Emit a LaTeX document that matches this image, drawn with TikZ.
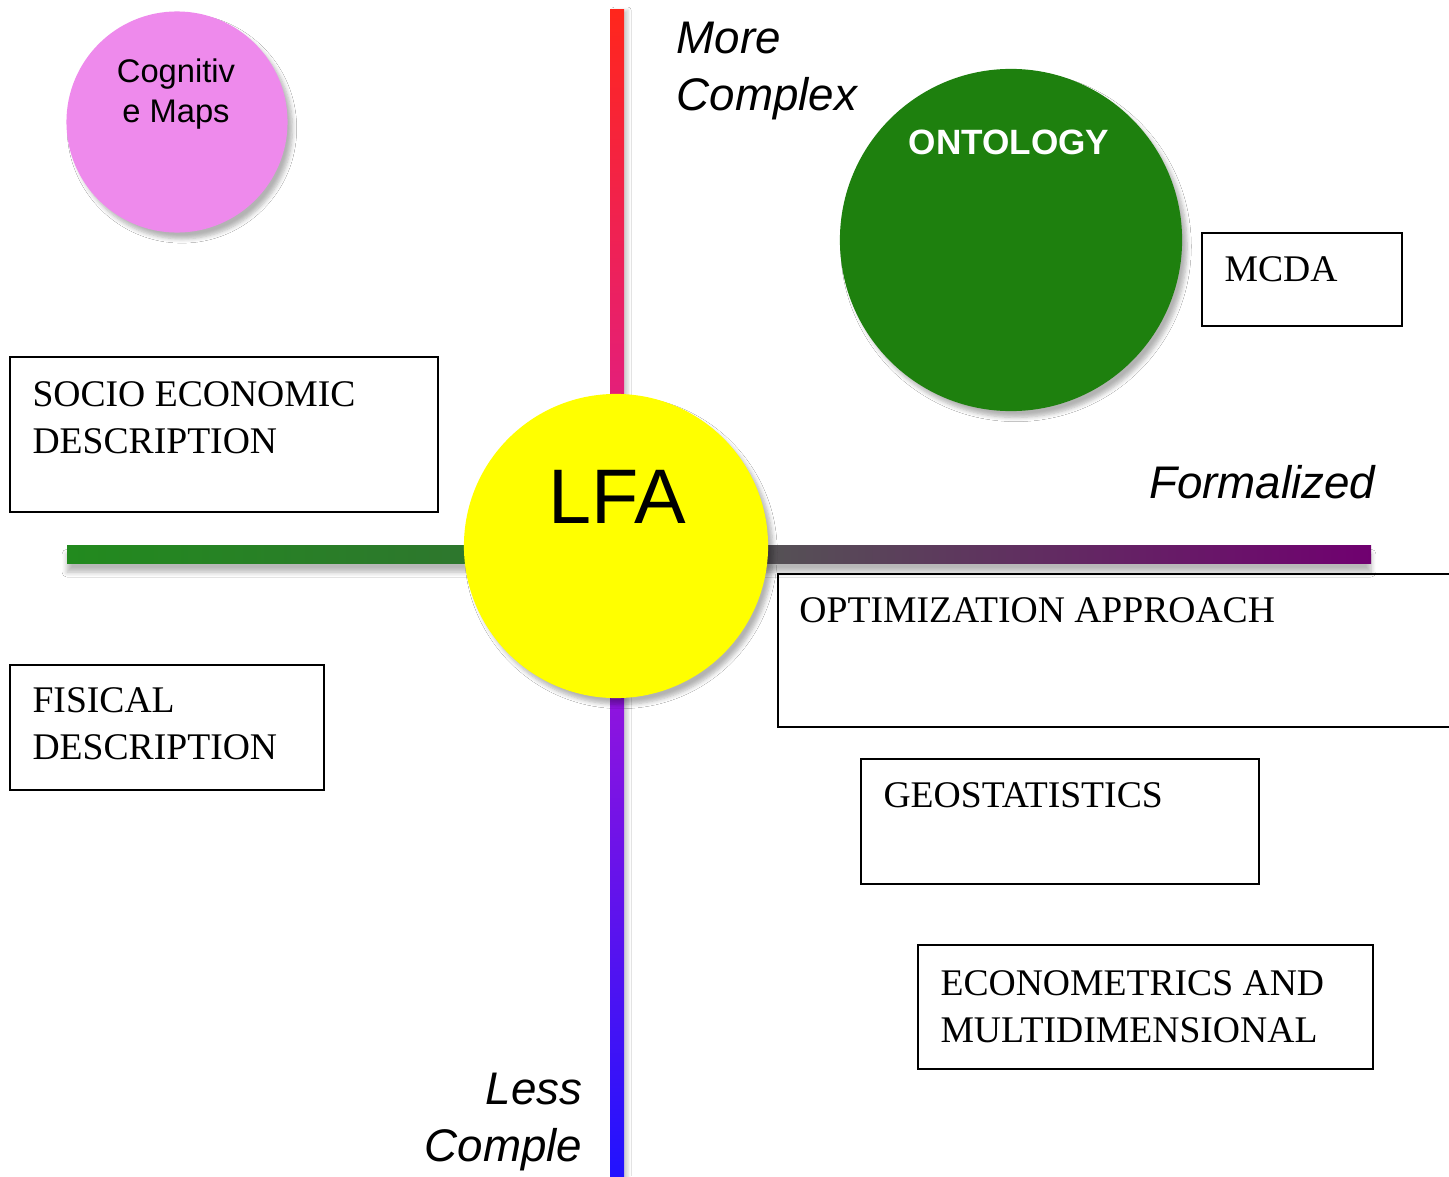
\documentclass[tikz,border=0pt]{standalone}
\usepackage{fontspec}
\setmainfont{Liberation Serif}
\setsansfont{Liberation Sans}
\usetikzlibrary{shadows.blur,calc}

\definecolor{cogpink}{RGB}{238,138,236}
\definecolor{ontgreen}{RGB}{30,128,14}
\definecolor{lfayellow}{RGB}{255,255,0}
\definecolor{axred}{RGB}{255,38,28}
\definecolor{axpink}{RGB}{226,30,128}
\definecolor{axviolet}{RGB}{150,20,220}
\definecolor{axblue}{RGB}{32,18,255}
\definecolor{axgreenL}{RGB}{34,138,30}
\definecolor{axgreenR}{RGB}{46,118,46}
\definecolor{axgray}{RGB}{84,84,84}
\definecolor{axpurple}{RGB}{112,0,112}

\begin{document}
\begin{tikzpicture}[x=0.01cm,y=-0.01cm,
  bubble/.style={circle, inner sep=0pt,
    blur shadow={shadow xshift=1.4pt, shadow yshift=-1.8pt, shadow blur radius=1.2pt,
      shadow blur steps=6, shadow opacity=30}},
  itemframe/.style={draw=black, line width=0.6pt, rectangle, inner sep=0pt},
  itemtext/.style={anchor=north west, inner sep=0pt, align=left,
    font=\fontsize{10.7pt}{13.4pt}\selectfont},
  axislabel/.style={inner sep=0pt, font=\sffamily\itshape\fontsize{13pt}{16.2pt}\selectfont},
  hbarshadow/.style={blur shadow={shadow xshift=0pt, shadow yshift=-2.6pt, shadow blur radius=1.4pt,
      shadow blur steps=6, shadow opacity=28}},
  vbarshadow/.style={blur shadow={shadow xshift=1.2pt, shadow yshift=0pt, shadow blur radius=0.8pt,
      shadow blur steps=5, shadow opacity=18}},
]
\clip (0,0) rectangle (1449,1176);
\fill[white] (0,0) rectangle (1449,1176);

% axes
\path[vbarshadow, top color=axred, bottom color=axpink] (610,10) rectangle (624,420);
\path[vbarshadow, top color=axviolet, bottom color=axblue] (610,670) rectangle (624,1180);
\path[hbarshadow, left color=axgreenL, right color=axgreenR] (67,545) rectangle (480,563);
\path[hbarshadow, left color=axgray, right color=axpurple] (750,545) rectangle (1371,563);

% bubbles
\node[bubble, fill=cogpink, minimum size=2.21cm] (cog) at (177,122) {};
\node[bubble, fill=ontgreen, minimum size=3.42cm] (ont) at (1011,240) {};
\node[bubble, fill=lfayellow, minimum size=3.04cm] (lfa) at (616,546) {};

\node[font=\sffamily\fontsize{9.3pt}{11.6pt}\selectfont, align=center, inner sep=0pt] (cogtxt) at (176,94) {Cognitiv\\e Maps};
\node[anchor=base, font=\sffamily\fontsize{22pt}{26pt}\selectfont, inner sep=0pt] (lfatxt) at (617,523) {LFA};
\node[anchor=base, text=white, inner sep=0pt, font=\sffamily\bfseries\fontsize{10pt}{12pt}\selectfont] (onttxt) at (1009,155) {ONTOLOGY};

% axis labels
\node[axislabel, anchor=north west, align=left] (more) at (676,21) {More\\Complex};
\node[axislabel, anchor=base east] (formal) at (1376,498) {Formalized};
\node[axislabel, anchor=north east, align=right] (less) at (583,1072) {Less\\Comple};

% boxes
\node[itemframe, minimum width=2.00cm, minimum height=0.93cm] (mcda) at (1302,279.5) {};
\node[itemframe, minimum width=4.28cm, minimum height=1.55cm] (socio) at (224,434.5) {};
\node[itemframe, minimum width=3.14cm, minimum height=1.25cm] (fisical) at (167,727.5) {};
\node[itemframe, minimum width=7.02cm, minimum height=1.53cm] (optim) at (1129,650.5) {};
\node[itemframe, minimum width=3.98cm, minimum height=1.25cm] (geo) at (1060,821.5) {};
\node[itemframe, minimum width=4.55cm, minimum height=1.24cm] (econ) at (1145.5,1007) {};

\node[itemtext] (mcdatxt) at ($(mcda.north west)+(23,24)$) {MCDA};
\node[itemtext] (sociotxt) at ($(socio.north west)+(23,25)$) {SOCIO ECONOMIC\\DESCRIPTION};
\node[itemtext] (fisicaltxt) at ($(fisical.north west)+(23,23)$) {FISICAL\\DESCRIPTION};
\node[itemtext] (optimtxt) at ($(optim.north west)+(22,24)$) {OPTIMIZATION APPROACH};
\node[itemtext] (geotxt) at ($(geo.north west)+(23,24)$) {GEOSTATISTICS};
\node[itemtext] (econtxt) at ($(econ.north west)+(23,26)$) {ECONOMETRICS AND\\MULTIDIMENSIONAL};
\end{tikzpicture}
\end{document}
